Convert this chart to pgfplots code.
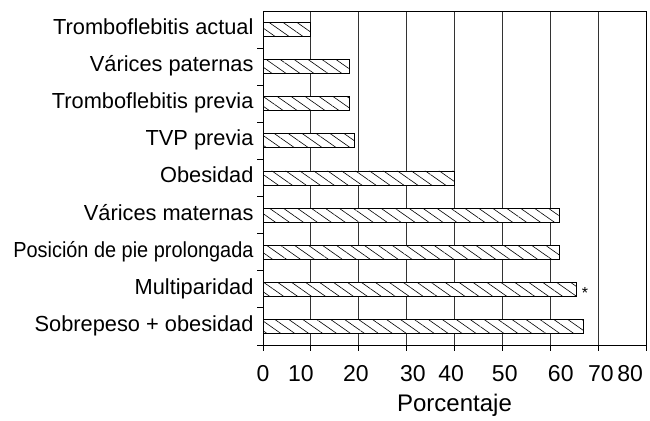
\documentclass[border=0pt]{standalone}
\usepackage{fontspec}
\setmainfont{Liberation Sans}
\usepackage{graphicx}
\usepackage{pgfplots}
\pgfplotsset{compat=1.18}
\usetikzlibrary{patterns.meta}
\begin{document}
\begin{tikzpicture}[x=1pt,y=1pt]
\path (0,0) rectangle (650,415);
\begin{axis}[
  at={(263pt,70pt)}, anchor=south west,
  scale only axis, width=383pt, height=334pt,
  xbar, bar width=14pt,
  xmin=0, xmax=80, ymin=-0.5, ymax=8.5,
  xtick={0,7.9,19.4,31.3,39.3,50.5,62.2,70.6,76.7},
  xticklabels={0,10,20,30,40,50,60,70,80},
  minor xtick={0,10,...,80},
  ytick={0,...,8},
  yticklabels={Sobrepeso + obesidad, Multiparidad, \scalebox{0.913}[1]{Posición de pie prolongada}, Várices maternas, Obesidad, TVP previa, Tromboflebitis previa, Várices paternas, Tromboflebitis actual},
  minor ytick={-0.5,0.5,...,7.5},
  xtick pos=bottom, ytick pos=left,
  major tick style={draw=none},
  minor tick style={black, line width=0.8pt},
  minor tick length=6pt,
  major tick length=6pt,
  tick align=outside,
  xminorgrids,
  minor x grid style={black!80, line width=0.8pt},
  axis line style={black, line width=0.9pt},
  xticklabel style={font=\fontsize{23}{28}\selectfont, yshift=-11pt},
  yticklabel style={font=\fontsize{21.8}{26}\selectfont, anchor=base east, yshift=-5pt},
  xlabel={Porcentaje},
  xlabel style={font=\fontsize{24}{28}\selectfont, at={(axis description cs:0.5,0)}, anchor=base, yshift=-66.7pt},
]
\addplot[draw=black, line width=0.9pt, fill=white, postaction={pattern={Lines[angle=-35,distance=8pt,line width=0.6pt]}}]
  coordinates {(67,0) (65.5,1) (62,2) (62,3) (40,4) (19,5) (18,6) (18,7) (10,8)};
\node[anchor=base west, inner sep=0pt, font=\fontsize{16}{16}\selectfont, xshift=5pt, yshift=-9pt] at (axis cs:65.5,1) {*};
\end{axis}
\end{tikzpicture}
\end{document}
